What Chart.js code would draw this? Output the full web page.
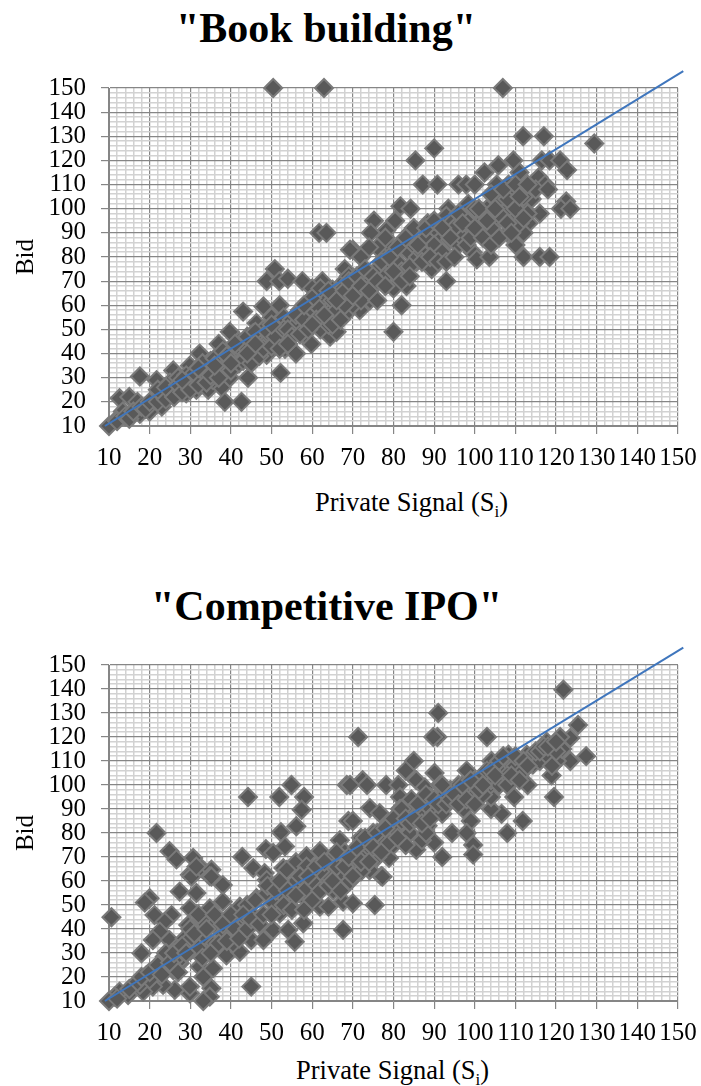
<!DOCTYPE html>
<html>
<head>
<meta charset="utf-8">
<title>Book building / Competitive IPO</title>
<script src="https://cdn.jsdelivr.net/npm/chart.js@4"></script>
<style>
    html, body { margin: 0; padding: 0; background: #fff; }
    body { position: relative; width: 701px; height: 1086px; overflow: hidden; font-family: "Liberation Serif", serif; color: #000; }
    canvas { position: absolute; left: 0; }
    .chart-title { position: absolute; font-size: 42px; font-weight: bold; line-height: 44px; white-space: nowrap; }
    .x-title { position: absolute; font-size: 26.5px; line-height: 30px; white-space: nowrap; }
    .x-title sub { font-size: 17px; line-height: 0; }
</style>
</head>
<body>
<div class="chart-title" style="left:176px;top:6px">"Book building"</div>
<canvas id="bookChart" width="701" height="475" style="top:0"></canvas>
<div class="x-title" style="left:315px;top:487px">Private Signal (S<sub>i</sub>)</div>

<div class="chart-title" style="left:151px;top:584px">"Competitive IPO"</div>
<canvas id="ipoChart" width="701" height="490" style="top:560px"></canvas>
<div class="x-title" style="left:296px;top:1055px">Private Signal (S<sub>i</sub>)</div>

<script>
// -----------------------------
// Data
// -----------------------------
const bookX = [
    50.4, 62.9, 106.9, 111.9, 117, 129.4, 90, 85.4, 87.2, 90.8,
    96, 97.9, 100, 102.4, 105.8, 109.5, 116.5, 118.4, 121, 122.7,
    115.7, 117.3, 111, 122.5, 121.2, 123.5, 116, 112, 108.3, 110,
    105.4, 114, 81.7, 84.2, 80.4, 75.2, 78.2, 74.4, 70, 88.4,
    93.5, 93, 94.2, 98.4, 100.5, 103, 108.3, 109.5, 113.2, 105.4,
    112, 108, 105, 101.3, 98, 91, 93.9, 103.8, 110, 99.5,
    100.5, 103.6, 112, 116, 118.4, 89.4, 93, 85.7, 83.7, 79.5,
    83.2, 80, 82, 80, 71.7, 74.2, 61.7, 63.5, 50.8, 48.8,
    51.9, 54, 57.6, 62.5, 60, 68, 69.3,
    10, 12.6, 13.4, 11.8, 15, 17.6, 17.6, 17, 20, 21.7,
    22.5, 23, 25.8, 25.8, 29.9, 29.5, 32.3, 32.3, 31.5, 34.4,
    36.4, 37.7, 38.5, 42.6, 39.7, 37, 43, 44.2, 39.7, 44.2,
    48, 52, 46.3, 50, 52.9, 56.1, 53.3, 56, 52.2, 48.8,
    45.5, 48, 42.2, 40.5, 35.6, 29, 59.8, 58.6, 61, 64.4,
    66, 66.4, 59.4, 65, 68.4, 68.4,
    62, 64, 66, 68, 62, 65, 67, 70, 69, 72,
    72, 70, 72, 74, 76, 75, 76, 78, 78, 80,
    79, 81, 82, 84, 82, 85, 86, 84, 88, 87,
    90, 90, 92, 95, 96, 98, 97, 100, 102, 104,
    107, 110, 112, 115, 113, 111, 106, 104, 108, 118,
    76, 72, 74, 78,
    12, 14, 15, 16, 18, 19, 20, 22, 23, 24,
    25, 26, 27, 28, 30, 31, 32, 33, 34, 35,
    36, 37, 38, 39, 40, 41, 42, 43, 44, 45,
    46, 47, 48, 49, 50, 51, 52, 53, 54, 55,
    56, 57, 58, 59, 60, 61, 62, 63, 64, 65,
    66, 67, 68,
    22, 24, 26, 27, 28, 29, 30, 31, 32, 33,
    34, 35, 36, 37, 38, 39, 40, 41, 42, 43,
    44, 45, 46, 47, 48, 49, 50, 51, 52, 53,
    54, 55, 56, 57, 58, 59, 60, 61, 62, 63,
    64, 65, 66, 67, 68, 69, 70, 71, 72, 73,
    74, 75, 76, 77, 78, 79, 80, 81, 82, 83,
    84, 85, 86, 87, 88, 89, 90, 91, 92, 93,
    94, 95, 96, 97, 98, 99, 100, 101, 102, 103,
    104, 105, 106, 107, 108, 109, 110, 111, 112, 113,
    46, 50, 54, 58, 60, 44, 40, 36, 32, 28
];
const bookY = [
    150, 150, 150, 130, 130, 127, 125, 120, 110, 110,
    110, 110, 110, 115, 118, 120, 120, 120, 120, 116,
    113, 110, 115, 103, 100, 100, 98, 100, 110, 107,
    110, 104, 101, 100, 95, 95, 91, 90, 83, 94,
    100, 97, 94, 102, 96, 100, 100, 95, 94, 95,
    90, 90, 90, 90, 90, 88, 87, 86, 85, 82,
    79, 80, 80, 80, 80, 75, 70, 78, 82, 75,
    68, 67, 60, 49, 58, 62, 90, 90, 75, 70,
    70, 71, 70, 70, 67, 75, 83,
    10, 21.5, 16, 12.5, 22, 30.5, 15, 20, 16, 29,
    22, 18, 33, 25, 35, 27.7, 40, 30, 25, 25,
    34.6, 26, 20, 20, 49, 44, 57.4, 30, 30, 37,
    59.5, 60, 52.6, 55, 50, 49, 42, 40, 32, 39.5,
    48.5, 47, 43, 36.7, 29, 23.5, 44, 52.6, 52.6, 47,
    49, 56, 62, 66.5, 63, 56.7,
    62, 60, 66, 70, 55, 58, 62, 68, 72, 72,
    66, 60, 62, 70, 75, 68, 62, 72, 80, 80,
    85, 78, 74, 76, 86, 85, 80, 90, 88, 82,
    92, 85, 82, 92, 85, 95, 88, 100, 95, 92,
    96, 100, 105, 108, 98, 94, 104, 106, 104, 108,
    84, 80, 84, 88,
    12, 14, 13, 16, 18, 17, 20, 20, 23, 21,
    28, 24, 30, 26, 30, 28, 34, 30, 33, 37,
    32, 38, 36, 34, 40, 38, 45, 41, 42, 46,
    40, 44, 50, 45, 48, 52, 46, 55, 44, 54,
    52, 58, 48, 55, 58, 60, 50, 64, 52, 62,
    58, 66, 60,
    25, 26, 22, 27, 24, 31, 25, 32, 27, 36,
    28, 31, 38, 30, 41, 39, 33, 44, 36, 37,
    47, 36, 49, 39, 42, 49, 43, 47, 42, 50,
    50, 47, 56, 48, 54, 50, 63, 54, 67, 56,
    66, 52, 62, 54, 66, 70, 64, 72, 68, 75,
    66, 72, 70, 78, 68, 80, 74, 84, 70, 88,
    72, 92, 85, 78, 92, 80, 95, 78, 92, 78,
    88, 80, 98, 94, 85, 88, 92, 100, 88, 95,
    85, 100, 88, 108, 94, 90, 110, 105, 96, 110,
    44, 52, 44, 60, 52, 40, 36, 35, 34, 29
];

const ipoX = [
    21.7, 24.9, 26.6, 30.7, 29.9, 32.7, 35.2, 34.8, 42.8, 44.2,
    45.5, 48.3, 51.9, 54.9, 58, 57.4, 56.1, 52.3, 53.3, 48.6,
    50.4, 52.9, 56, 58.6, 61.9, 68.5, 68.9, 66.8, 65.2, 65,
    121.8, 91, 90.8, 89.8, 71.3, 103, 125.4, 123.5, 121, 117.7,
    127.4, 123.5, 120.2, 121.5, 118.9, 119.5, 113, 109.7, 111.8, 108,
    106.6, 104, 104, 85, 83, 85.6, 90.1, 98, 104.1, 108.3,
    112.8, 114.3, 107.9, 103.8, 100, 95.6, 87.7, 91.4, 72.4, 73.5,
    78.2, 81.2, 69.3, 81.6, 84.4, 89, 93.5, 97.2, 99, 90.6,
    86.6, 88.4, 74.2, 76.6, 81.6, 70, 78.8, 79.6, 85.6, 90,
    92, 94.4, 98, 99.6, 99.6, 78.9, 77, 74, 83, 87,
    10.6, 20, 18.8, 21.2, 25.4, 23.7, 22.5, 20.8, 18, 24.9,
    27.4, 30.3, 31.5, 35.2, 38, 38, 31.5, 29.9, 34.8, 32.7,
    29.5, 28.6, 33.6, 35.6, 38.9, 42.2, 40.5, 38.9, 42.2, 44.6,
    45, 48, 50.4, 54.1, 55.7, 57.8, 59, 61.9, 64, 52,
    54.5, 45, 30.3, 32.3, 35.6, 33.2, 35.2, 34.8, 33.2, 29.9,
    29.9, 26.2, 23.3, 20.8, 18.4, 17.6, 14.7, 12.6, 11.4, 10,
    25.8, 21.7, 19.2, 23.7, 26.6, 27.4, 46.3, 48.8, 52.9, 50.4,
    48.8, 53.7, 55.7, 59.4, 61.9, 67.6, 67.6, 58.6, 65.2, 66.8,
    75.4, 77.3, 74.2, 70, 69.3,
    72, 70, 74, 76, 75, 78, 72, 72, 80, 80,
    82, 84, 85, 83, 86, 88, 90, 92, 94, 96,
    98, 100, 100, 102, 104, 106, 108, 110, 112, 114,
    116, 118, 120, 106, 102, 96, 92, 88, 66, 68,
    64, 60, 62, 58, 56, 50, 44, 42, 40, 38,
    36, 34, 32, 30, 28, 26, 24, 22, 20, 15,
    12, 17,
    18, 20, 22, 23, 24, 25, 26, 27, 28, 29,
    30, 31, 32, 33, 34, 35, 36, 37, 38, 39,
    40, 41, 42, 43, 44, 45, 46, 47, 48, 49,
    50, 51, 52, 53, 54, 55, 56, 57, 58, 59,
    60, 61, 62, 63, 64, 65, 66, 67, 68, 69,
    70, 71, 72, 73, 74, 75, 76, 77, 78, 79,
    80, 81, 82, 83, 84, 85, 86, 87, 88, 89,
    90, 91, 92, 93, 94, 95, 96, 97, 98, 99,
    100, 101, 102, 103, 104, 105, 106, 107, 108, 109,
    110, 111, 112, 113, 115, 116, 117, 118, 119, 120
];
const ipoY = [
    80, 72.4, 69, 69.6, 62.6, 65.4, 64.7, 62, 70, 95,
    65.4, 63.3, 95, 100, 95, 89.7, 82.8, 80.3, 74.4, 73.3,
    71.7, 65.4, 67.8, 70.3, 72.4, 100, 85, 77, 70, 65,
    139.7, 130, 120, 120, 120, 120, 125, 119.6, 120, 118,
    112, 110, 110, 115, 104, 95, 100, 95, 85, 80,
    88, 90, 95, 110, 106, 102, 105, 106, 110, 112.6,
    112.6, 108.5, 108.5, 100, 100, 99, 99, 100, 102, 100,
    100, 100, 100, 95, 94, 95, 92.5, 90, 85, 90,
    85.5, 83, 90.4, 88.3, 90, 85, 84, 79.3, 73, 76,
    70, 80, 80, 75, 71, 69.6, 62, 64.7, 80, 77,
    44.9, 52.8, 51, 45.8, 45.8, 43, 38.9, 35.4, 29.9, 35.4,
    55.6, 61.8, 66, 61.8, 58.3, 51.4, 55, 48.6, 48.6, 43.8,
    41.7, 36, 36.8, 33.3, 29, 30.5, 34, 39.6, 49.3, 47,
    35.4, 35.4, 39.6, 39.6, 34.7, 42.4, 51.4, 49.3, 49.3, 46.5,
    49.3, 16, 31.3, 24.3, 23.6, 20, 15.3, 11.8, 10, 13.2,
    16, 14.6, 16.7, 16, 13.9, 16.7, 12.5, 13.9, 11.8, 10,
    22.9, 23.6, 20.8, 28.5, 32, 25.7, 52.8, 54.9, 53.5, 50.7,
    60.4, 64.6, 57.6, 59, 60.4, 39.6, 51.4, 66, 56, 63,
    50, 61.8, 64.6, 50.7, 60,
    72, 68, 74, 70, 80, 76, 64, 78, 82, 75,
    85, 80, 90, 75, 88, 92, 88, 95, 98, 94,
    98, 96, 102, 104, 102, 106, 104, 108, 106, 112,
    110, 112, 114, 100, 96, 100, 88, 80, 66, 72,
    62, 60, 64, 56, 60, 58, 50, 42, 44, 38,
    42, 30, 32, 36, 28, 27, 24, 22, 19, 15,
    11, 18,
    20, 22, 25, 21, 30, 26, 30, 22, 33, 30,
    40, 38, 46, 28, 40, 30, 46, 34, 42, 35,
    46, 40, 36, 46, 40, 44, 52, 42, 46, 58,
    46, 56, 60, 50, 56, 48, 54, 62, 48, 62,
    52, 66, 56, 68, 58, 60, 72, 56, 66, 70,
    62, 74, 68, 78, 68, 74, 80, 72, 82, 76,
    86, 78, 90, 86, 84, 86, 92, 84, 96, 86,
    94, 92, 100, 92, 94, 96, 92, 100, 94, 102,
    92, 98, 100, 106, 106, 104, 110, 112, 100, 104,
    112, 102, 110, 108, 114, 114, 116, 116, 108, 118
];

const bookTrendX = [9, 151.3];
const bookTrendY = [10, 157];
const ipoTrendX = [9, 151.3];
const ipoTrendY = [10, 157.2];

// -----------------------------
// Chart Builder
// -----------------------------
Chart.defaults.font.family = '"Liberation Serif", serif';
Chart.defaults.color = "#000";

const isMajor = v => v % 10 === 0;

function axis(extra) {
    return Object.assign({
        type: "linear",
        min: 10,
        max: 150,
        grid: {
            color: c => isMajor(c.tick.value) ? "#868686" : "#d2d2d2",
            lineWidth: c => isMajor(c.tick.value) ? 1.2 : 1.5,
            tickColor: c => isMajor(c.tick.value) ? "#868686" : "rgba(0,0,0,0)",
            tickLength: 8
        },
        border: { display: true, color: "#868686" }
    }, extra);
}

function makeChart(id, xs, ys, trendX, trendY, plotTop) {
    const points = xs.map((x, i) => ({ x, y: ys[i] }));
    const trend = trendX.map((x, i) => ({ x, y: trendY[i] }));
    new Chart(document.getElementById(id), {
        type: "scatter",
        data: {
            datasets: [
                {
                    data: trend,
                    showLine: true,
                    borderColor: "#3f76bd",
                    borderWidth: 2,
                    pointRadius: 0,
                    clip: false
                },
                {
                    data: points,
                    pointStyle: "rectRot",
                    pointRadius: 9,
                    pointBackgroundColor: "#595959",
                    pointBorderColor: "#7a7a7a",
                    pointBorderWidth: 2,
                    clip: false
                }
            ]
        },
        options: {
            responsive: false,
            animation: false,
            layout: { padding: { top: plotTop, right: 23, left: 0, bottom: 0 } },
            plugins: { legend: { display: false }, tooltip: { enabled: false } },
            scales: {
                x: axis({
                    // fixed height, and no extra room for the end labels
                    afterFit: s => { s.height = 49; s.paddingLeft = 0; s.paddingRight = 0; },
                    ticks: {
                        stepSize: 2,
                        autoSkip: false,
                        maxRotation: 0,
                        padding: 9,
                        font: { size: 25 },
                        callback: v => isMajor(v) ? String(v) : ""
                    }
                }),
                y: axis({
                    afterFit: s => { s.width = 109; },
                    title: { display: true, text: "Bid", font: { size: 25 }, padding: { top: 11, bottom: 0 } },
                    ticks: {
                        stepSize: 2,
                        autoSkip: false,
                        padding: 15,
                        font: { size: 25 },
                        callback: v => isMajor(v) ? String(v) : ""
                    }
                })
            }
        }
    });
}

makeChart("bookChart", bookX, bookY, bookTrendX, bookTrendY, 88);
makeChart("ipoChart", ipoX, ipoY, ipoTrendX, ipoTrendY, 105);
</script>
</body>
</html>
